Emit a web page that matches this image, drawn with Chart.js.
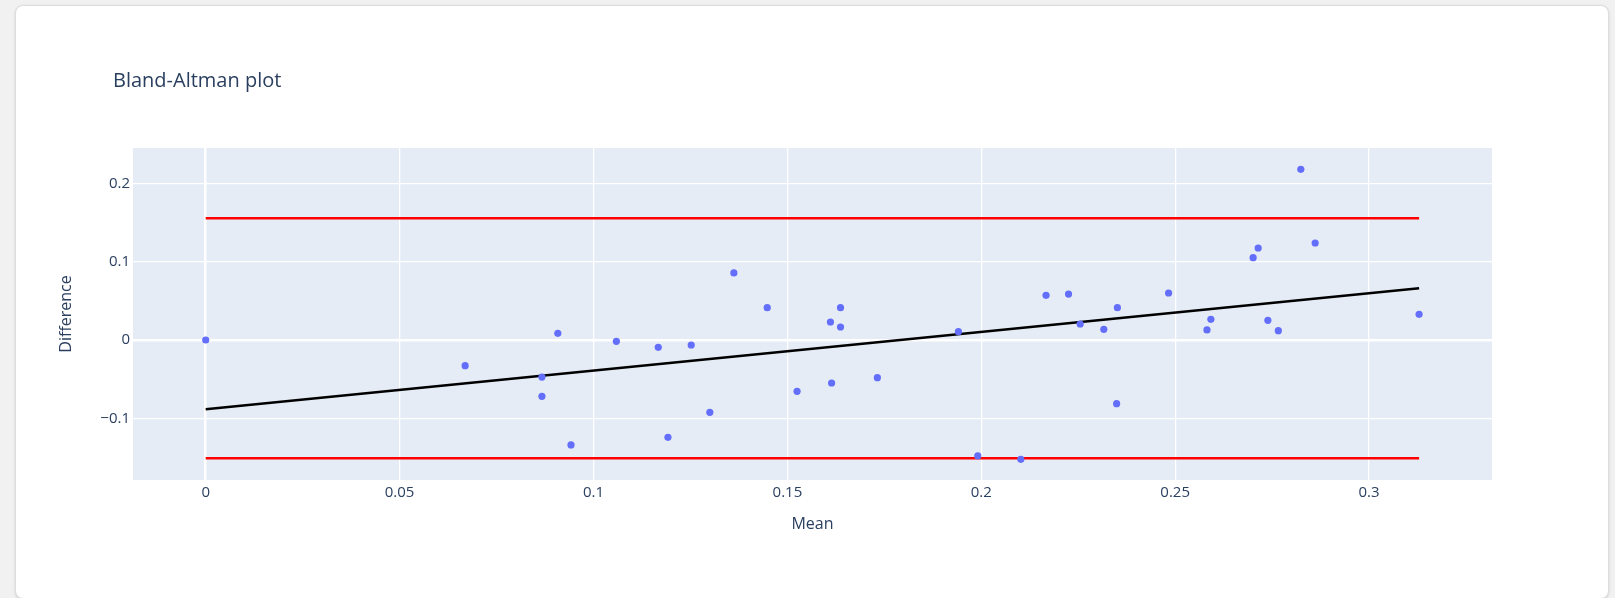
<!DOCTYPE html>
<html>
<head>
<meta charset="utf-8">
<title>Bland-Altman plot</title>
<script src="https://cdn.jsdelivr.net/npm/chart.js@4.4.1/dist/chart.umd.min.js"></script>
<style>
  html, body { margin: 0; padding: 0; width: 1615px; height: 598px; overflow: hidden; background: #f1f1f1; }
  .card { position: absolute; left: 15px; top: 5px; width: 1592px; height: 592px; background: #ffffff;
          border: 1px solid #dddddd; border-radius: 8px; box-shadow: 0 1px 3px rgba(0,0,0,0.12); }
  #wrap { position: absolute; left: 0; top: 0; width: 1615px; height: 598px; }
</style>
</head>
<body>
<div class="card"></div>
<div id="wrap"><canvas id="chart" width="1615" height="598"></canvas></div>
<script>
// Mean of the two measurements (x) and their difference (y)
const meanValues = [0, 0.0669, 0.0908, 0.0867, 0.0867, 0.0942, 0.1059, 0.1167, 0.1252, 0.1192,
  0.1300, 0.1362, 0.1448, 0.1525, 0.1614, 0.1611, 0.1637, 0.1637, 0.1732, 0.1941,
  0.1991, 0.2102, 0.2167, 0.2225, 0.2255, 0.2316, 0.2351, 0.2349, 0.2483, 0.2582,
  0.2592, 0.2701, 0.2714, 0.2739, 0.2766, 0.2824, 0.2861, 0.3129];
const diffValues = [0, -0.0328, 0.0085, -0.0473, -0.0719, -0.1340, -0.0017, -0.0094, -0.0064, -0.1243,
  -0.0924, 0.0856, 0.0413, -0.0656, -0.0549, 0.0230, 0.0413, 0.0166, -0.0481, 0.0106,
  -0.1481, -0.1524, 0.0571, 0.0587, 0.0204, 0.0136, 0.0413, -0.0813, 0.0600, 0.0128,
  0.0264, 0.1051, 0.1175, 0.0251, 0.0119, 0.2180, 0.1239, 0.0328];

// Limits of agreement and the fitted trend, spanning the range of means
const lineX = [0, 0.3129];
const upperLimit = 0.1554;
const lowerLimit = -0.1511;
const trendY = [-0.0885, 0.0660];

// Axis ticks
const xTickValues = [0, 0.05, 0.1, 0.15, 0.2, 0.25, 0.3];
const xTickLabels = ['0', '0.05', '0.1', '0.15', '0.2', '0.25', '0.3'];
const yTickValues = [-0.1, 0, 0.1, 0.2];
const yTickLabels = ['\u22120.1', '0', '0.1', '0.2'];

const FONT = "'Open Sans', verdana, arial, sans-serif";
const TEXT = '#2a3f5f';

const plotBackground = {
  id: 'plotBackground',
  beforeDraw(chart) {
    const { ctx, chartArea: a } = chart;
    ctx.save();
    ctx.fillStyle = '#e5ecf6';
    ctx.fillRect(a.left, a.top, a.right - a.left, a.bottom - a.top);
    ctx.font = '20px ' + FONT;
    ctx.fillStyle = TEXT;
    ctx.textAlign = 'left';
    ctx.textBaseline = 'alphabetic';
    ctx.fillText('Bland-Altman plot', 113, 87);
    ctx.restore();
  }
};

const gridWidth = (c) => (c.tick && c.tick.value === 0 ? 2.5 : 1.25);

new Chart(document.getElementById('chart'), {
  type: 'scatter',
  data: {
    datasets: [
      {
        label: 'Difference',
        data: meanValues.map((m, i) => ({ x: m, y: diffValues[i] })),
        backgroundColor: '#636efa',
        borderWidth: 0,
        pointRadius: 3.6,
        order: 0
      },
      {
        type: 'line',
        data: lineX.map(x => ({ x, y: upperLimit })),
        borderColor: '#ff0000', borderWidth: 2.5, pointRadius: 0, fill: false, order: 1
      },
      {
        type: 'line',
        data: lineX.map(x => ({ x, y: lowerLimit })),
        borderColor: '#ff0000', borderWidth: 2.5, pointRadius: 0, fill: false, order: 1
      },
      {
        type: 'line',
        data: lineX.map((x, i) => ({ x, y: trendY[i] })),
        borderColor: '#000000', borderWidth: 2.5, pointRadius: 0, fill: false, order: 1
      }
    ]
  },
  options: {
    responsive: false,
    animation: false,
    devicePixelRatio: 1,
    layout: { padding: { left: 50, right: 123, top: 148, bottom: 48 } },
    plugins: { legend: { display: false }, tooltip: { enabled: false }, title: { display: false } },
    scales: {
      x: {
        type: 'linear',
        min: -0.01875,
        max: 0.3317,
        afterFit(scale) { scale.height = 70; },
        afterBuildTicks(scale) { scale.ticks = xTickValues.map(v => ({ value: v })); },
        border: { display: false },
        grid: { color: '#ffffff', lineWidth: gridWidth, drawTicks: false },
        ticks: {
          padding: 4,
          color: TEXT,
          font: { family: FONT, size: 15 },
          maxRotation: 0,
          callback: (v, i) => xTickLabels[i]
        },
        title: {
          display: true, text: 'Mean', color: TEXT,
          font: { family: FONT, size: 16 },
          padding: { top: 0, bottom: 16 }
        }
      },
      y: {
        type: 'linear',
        min: -0.1788,
        max: 0.2452,
        afterFit(scale) { scale.width = 83; },
        afterBuildTicks(scale) { scale.ticks = yTickValues.map(v => ({ value: v })); },
        border: { display: false },
        grid: { color: '#ffffff', lineWidth: gridWidth, drawTicks: false },
        ticks: {
          padding: 3,
          color: TEXT,
          font: { family: FONT, size: 15 },
          callback: (v, i) => yTickLabels[i]
        },
        title: {
          display: true, text: 'Difference', color: TEXT,
          font: { family: FONT, size: 16 },
          padding: { top: 7, bottom: 0 }
        }
      }
    }
  },
  plugins: [plotBackground]
});
</script>
</body>
</html>
